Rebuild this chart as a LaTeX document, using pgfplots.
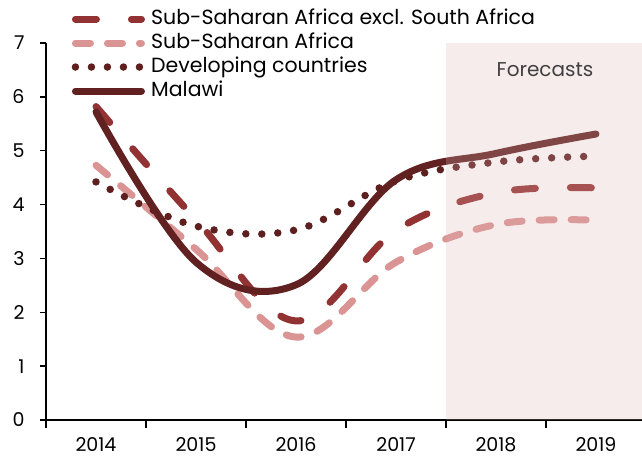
\documentclass[border=0pt]{standalone}
\usepackage{pgfplots}
\pgfplotsset{compat=1.18}
\usepackage{fontspec}
\setmainfont{Poppins}
\definecolor{malawi}{HTML}{612121}
\definecolor{ssaex}{HTML}{933232}
\definecolor{ssa}{HTML}{DB9494}
\definecolor{dev}{HTML}{5E1F1F}
\definecolor{shadecol}{HTML}{DFB3B3}
\definecolor{fcast}{HTML}{404040}
\begin{document}
\begin{tikzpicture}[font=\fontsize{19bp}{22bp}\selectfont]
\path[use as bounding box] (-46bp,-37bp) rectangle (596bp,420bp);
\begin{axis}[
  at={(0,0)}, anchor=south west,
  width=596bp, height=377bp, scale only axis,
  xmin=2013.5, xmax=2019.46, ymin=0, ymax=7,
  axis x line*=bottom, axis y line*=left,
  axis line style={line width=1.4bp, black, -},
  xtick={2014,2015,2016,2017,2018,2019},
  xticklabels={2014,2015,2016,2017,2018,2019},
  minor xtick={2013.5,2014.5,2015.5,2016.5,2017.5,2018.5},
  major x tick style={draw=none},
  minor x tick style={line width=1.4bp, black},
  minor tick length=8bp,
  ytick={0,1,2,3,4,5,6,7},
  y tick style={line width=1.4bp, black},
  major tick length=6bp,
  tick align=outside,
  /pgf/number format/assume math mode=true,
  xticklabel style={yshift=-8bp},
  yticklabel style={xshift=-12bp},
  legend style={draw=none, fill=none, at={(0.0428,1.088)}, anchor=north west,
    inner sep=0pt, row sep=6bp, column sep=6bp,
    font=\fontsize{20.5bp}{23bp}\selectfont,
    nodes={inner sep=0pt, text height=14bp, text depth=4bp}},
  legend cell align=left,
  legend image code/.code={\draw[#1] (0bp,0bp) -- (66bp,0bp);},
  every axis plot/.append style={line width=7bp, line cap=round, line join=round, smooth, tension=0.6},
]
\addplot[ssaex, dash pattern=on 21bp off 35bp] coordinates {
(2014,5.82) (2015,3.72) (2016,1.84) (2017,3.52) (2018,4.22) (2019,4.31)};
\addlegendentry{Sub-Saharan Africa excl. South Africa}
\addplot[ssa, dash pattern=on 15bp off 17bp] coordinates {
(2014,4.73) (2015,3.17) (2016,1.54) (2017,2.93) (2018,3.63) (2019,3.71)};
\addlegendentry{Sub-Saharan Africa}
\addplot[dev, line width=7.5bp, dash pattern=on 0bp off 16bp] coordinates {
(2014,4.42) (2015,3.60) (2016,3.53) (2017,4.44) (2018,4.79) (2019,4.90)};
\addlegendentry{Developing countries}
\addplot[malawi] coordinates {
(2014,5.72) (2015,2.93) (2016,2.51) (2017,4.46) (2018,4.95) (2019,5.31)};
\addlegendentry{Malawi}
\fill[shadecol, fill opacity=0.25] (axis cs:2017.5,0) rectangle (axis cs:2019.46,7);
\node[text=fcast, font=\fontsize{20bp}{23bp}\selectfont] at (axis cs:2018.49,6.5) {Forecasts};
\end{axis}
\end{tikzpicture}
\end{document}
